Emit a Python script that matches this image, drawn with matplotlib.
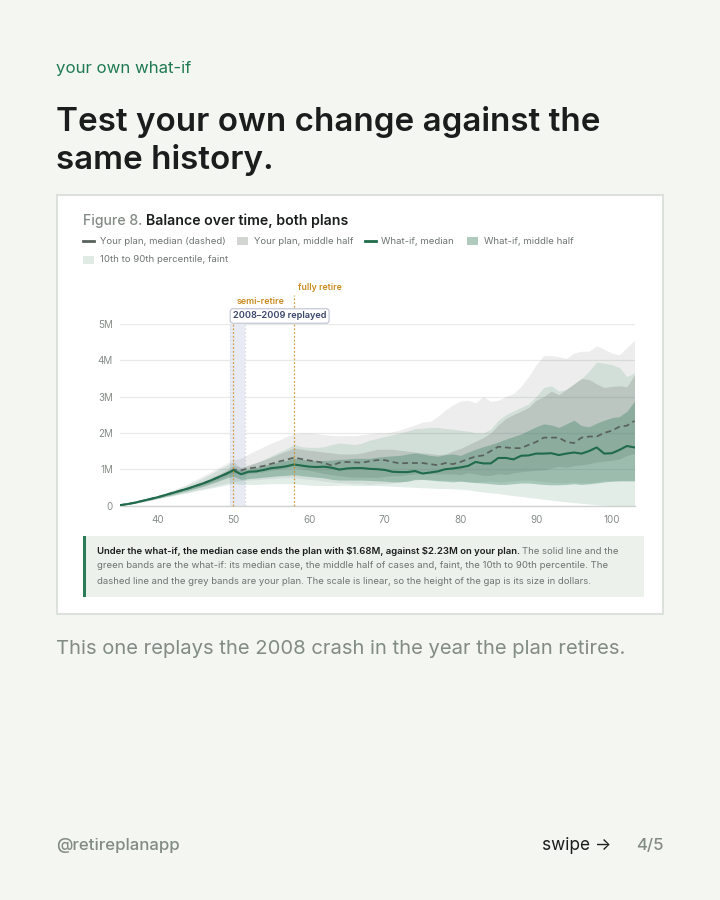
import matplotlib
matplotlib.use("Agg")
import matplotlib.pyplot as plt
import matplotlib.patches as patches

plt.rcParams['font.family'] = ['Inter', 'DejaVu Sans']

ages = list(range(35, 104))
tick_ages = [40, 50, 60, 70, 80, 90, 100]
tick_vals = [0, 1, 2, 3, 4, 5]
tick_labels = ['0', '1M', '2M', '3M', '4M', '5M']
semi_retire_age = 50
full_retire_age = 58
crash_start = 49.5
crash_end = 51.5

# balances in $M, one value per age
whatif_median = [.01, .04, .08, .13, .18, .23, .29, .35, .41, .47, .54, .61, .69, .78, .87, .97,
                 .86, .93, .94, .98, 1.03, 1.05, 1.08, 1.13, 1.10, 1.07, 1.06, 1.07, 1.04, .99,
                 1.02, 1.03, 1.03, 1.01, 1.0, .98, .93, .92, .92, .95, .88, .91, .94, 1.0, 1.02,
                 1.05, 1.09, 1.2, 1.16, 1.16, 1.31, 1.31, 1.27, 1.37, 1.38, 1.43, 1.43, 1.44,
                 1.39, 1.43, 1.46, 1.43, 1.5, 1.6, 1.43, 1.44, 1.53, 1.64, 1.6]
plan_median = [.01, .04, .08, .13, .18, .23, .29, .35, .41, .47, .54, .61, .69, .78, .87, .98,
               .97, 1.02, 1.05, 1.09, 1.15, 1.21, 1.26, 1.32, 1.28, 1.24, 1.21, 1.17, 1.1, 1.18,
               1.2, 1.19, 1.18, 1.22, 1.25, 1.25, 1.2, 1.16, 1.17, 1.17, 1.17, 1.14, 1.11, 1.17,
               1.14, 1.2, 1.28, 1.35, 1.38, 1.5, 1.62, 1.6, 1.58, 1.58, 1.67, 1.75, 1.87, 1.87,
               1.87, 1.75, 1.72, 1.87, 1.9, 1.9, 2.0, 2.06, 2.17, 2.2, 2.33]
plan_p90 = [.01, .05, .09, .14, .2, .27, .35, .43, .51, .6, .71, .82, .93, 1.04, 1.15, 1.27,
            1.3, 1.42, 1.52, 1.62, 1.72, 1.8, 1.9, 1.97, 2.0, 2.0, 1.98, 1.95, 1.93, 1.92,
            1.93, 1.92, 1.95, 1.98, 2.0, 2.0, 2.03, 2.08, 2.15, 2.22, 2.3, 2.32, 2.45, 2.63,
            2.77, 2.88, 2.9, 2.83, 3.0, 2.87, 2.9, 3.0, 3.08, 3.28, 3.55, 3.88, 4.13, 4.13,
            4.1, 4.05, 4.2, 4.25, 4.25, 4.4, 4.3, 4.2, 4.15, 4.35, 4.55]
plan_p75 = [.01, .04, .08, .13, .19, .25, .31, .37, .44, .51, .59, .67, .76, .86, .97, 1.1,
            1.05, 1.12, 1.18, 1.25, 1.33, 1.42, 1.5, 1.58, 1.55, 1.52, 1.5, 1.47, 1.45, 1.42,
            1.42, 1.42, 1.45, 1.5, 1.55, 1.55, 1.55, 1.52, 1.5, 1.47, 1.45, 1.43, 1.4, 1.42,
            1.5, 1.57, 1.67, 1.77, 1.87, 2.0, 2.22, 2.4, 2.5, 2.6, 2.7, 2.9, 3.0, 3.15,
            3.05, 3.2, 3.35, 3.5, 3.47, 3.35, 3.25, 3.28, 3.3, 3.27, 3.6]
plan_p25 = [.01, .03, .07, .12, .16, .21, .27, .33, .39, .45, .5, .56, .64, .72, .8, .9,
            .86, .88, .9, .93, .97, 1.0, 1.03, 1.05, 1.0, .97, .92, .88, .85, .82,
            .8, .78, .78, .78, .77, .8, .82, .82, .85, .87, .88, .87, .87, .87,
            .87, .85, .9, .87, .83, .83, .88, .85, .9, .93, .95, .97, .98, 1.03,
            1.08, 1.05, 1.1, 1.12, 1.15, 1.2, 1.22, 1.25, 1.28, 1.38, 1.43]
plan_p10 = [.01, .03, .06, .1, .14, .2, .24, .28, .33, .37, .42, .46, .51, .56, .61, .66,
            .68, .7, .71, .73, .74, .76, .77, .77, .74, .72, .7, .67, .65, .63,
            .62, .6, .6, .58, .6, .6, .62, .65, .67, .7, .72, .72, .7, .7,
            .7, .68, .66, .65, .66, .67, .65, .66, .68, .7, .7, .68, .66, .64,
            .63, .63, .65, .63, .62, .65, .68, .68, .68, .68, .68]
whatif_p90 = [.01, .05, .09, .13, .19, .26, .33, .4, .48, .57, .66, .76, .87, .98, 1.09, 1.2,
              1.03, 1.1, 1.18, 1.27, 1.37, 1.47, 1.56, 1.68, 1.62, 1.6, 1.6, 1.62, 1.68, 1.72,
              1.7, 1.68, 1.72, 1.8, 1.85, 1.9, 1.95, 2.0, 2.05, 2.12, 2.13, 2.15, 2.15, 2.12,
              2.1, 2.07, 2.05, 2.0, 2.0, 2.1, 2.35, 2.5, 2.6, 2.7, 2.8, 3.0, 3.25, 3.3,
              3.15, 3.2, 3.35, 3.5, 3.7, 3.95, 3.92, 3.88, 3.8, 3.55, 3.65]
whatif_p75 = [.01, .04, .08, .12, .18, .24, .3, .36, .42, .49, .56, .64, .73, .82, .93, 1.05,
              .96, 1.0, 1.05, 1.1, 1.15, 1.2, 1.24, 1.3, 1.27, 1.25, 1.24, 1.24, 1.25, 1.27,
              1.28, 1.3, 1.3, 1.3, 1.33, 1.35, 1.37, 1.38, 1.42, 1.45, 1.42, 1.38, 1.36, 1.4,
              1.42, 1.38, 1.47, 1.55, 1.62, 1.68, 1.75, 1.83, 1.9, 1.97, 2.07, 2.17, 2.25, 2.22,
              2.15, 2.25, 2.35, 2.2, 2.17, 2.27, 2.35, 2.42, 2.45, 2.6, 2.87]
whatif_p25 = [.01, .03, .06, .11, .15, .2, .25, .3, .36, .41, .47, .53, .6, .67, .75, .8,
              .72, .74, .76, .78, .8, .82, .83, .85, .82, .8, .78, .76, .72, .7,
              .7, .7, .7, .69, .68, .67, .65, .65, .67, .72, .72, .7, .68, .67,
              .65, .67, .65, .63, .62, .6, .58, .58, .6, .62, .62, .6, .58, .57,
              .57, .58, .6, .58, .6, .62, .65, .67, .68, .68, .68]
whatif_p10 = [.01, .03, .06, .1, .14, .19, .23, .27, .31, .35, .4, .44, .48, .52, .56, .6,
              .58, .58, .58, .59, .6, .6, .6, .6, .58, .56, .55, .55, .55, .56,
              .56, .55, .55, .55, .55, .54, .53, .52, .51, .5, .49, .48, .47, .47,
              .46, .45, .43, .4, .37, .35, .33, .3, .27, .25, .22, .2, .17, .15,
              .12, .1, .08, .06, .04, .02, .01, 0, 0, 0, 0]

BG = '#f3f6f1'
GREEN = '#1f6b4c'
ACCENT = '#1f7a52'
INK = '#1a1d1b'
MUTED = '#838b85'
GREY_LINE = '#5a625d'
ORANGE = '#c98a1e'
LEGEND_TEXT = '#6d746f'

fig = plt.figure(figsize=(7.2, 9), dpi=100, facecolor=BG)

# overlay in pixel coordinates for the card and all the text
bg = fig.add_axes([0, 0, 1, 1])
bg.set_xlim(0, 720)
bg.set_ylim(900, 0)
bg.axis('off')


def run_text(x, y, parts, size):
    # several styles on one line, placed one after the other
    r = fig.canvas.get_renderer()
    for s, color, weight in parts:
        t = bg.text(x, y, s, fontsize=size, color=color, fontweight=weight, va='center')
        x += t.get_window_extent(r).width


bg.text(56, 68, 'your own what-if', fontsize=12.1, color=ACCENT, va='center')
bg.text(56, 122, 'Test your own change against the', fontsize=23.9, color=INK, fontweight='semibold', va='center')
bg.text(56, 160, 'same history.', fontsize=23.9, color=INK, fontweight='semibold', va='center')

bg.add_patch(patches.Rectangle((57, 195), 606, 419, facecolor='white', edgecolor='#dce1dc', linewidth=1.5))

run_text(83, 221, [('Figure 8. ', MUTED, 'medium'), ('Balance over time, both plans', INK, 'semibold')], 10.15)

# legend
bg.plot([83, 94], [241, 241], color=GREY_LINE, lw=2)
bg.text(100, 241, 'Your plan, median (dashed)', fontsize=6.9, color=LEGEND_TEXT, va='center')
bg.add_patch(patches.Rectangle((237, 237), 11, 8, facecolor='#d3d5d3', edgecolor='none'))
bg.text(254, 241, 'Your plan, middle half', fontsize=6.9, color=LEGEND_TEXT, va='center')
bg.plot([365, 376], [241, 241], color=GREEN, lw=2)
bg.text(381, 241, 'What-if, median', fontsize=6.9, color=LEGEND_TEXT, va='center')
bg.add_patch(patches.Rectangle((467, 237), 11, 8, facecolor='#b1cabe', edgecolor='none'))
bg.text(484, 241, 'What-if, middle half', fontsize=6.9, color=LEGEND_TEXT, va='center')
bg.add_patch(patches.Rectangle((83, 256), 11, 8, facecolor='#e1ebe6', edgecolor='none'))
bg.text(100, 260, '10th to 90th percentile, faint', fontsize=6.9, color=LEGEND_TEXT, va='center')

# main chart
ax = fig.add_axes([120 / 720, (900 - 505.5) / 900, 514.5 / 720, 181.5 / 900], facecolor='none')
ax.set_xlim(35, 103)
ax.set_ylim(0, 5)
for spine in ['top', 'right', 'left']:
    ax.spines[spine].set_visible(False)
ax.spines['bottom'].set_color('#cfd3cf')
ax.spines['bottom'].set_linewidth(1)
ax.set_yticks(tick_vals)
ax.set_yticklabels(tick_labels)
ax.set_xticks(tick_ages)
ax.tick_params(length=0, labelsize=7.1, labelcolor='#868d88')
ax.tick_params(axis='x', pad=7)
ax.tick_params(axis='y', pad=5)
ax.grid(axis='y', color='#e8eae8', linewidth=0.9)
ax.set_axisbelow(True)

ax.axvspan(crash_start, crash_end, color='#e8ebf3', lw=0, zorder=1)
for edge in (crash_start, crash_end):
    ax.axvline(edge, color='#dcdfe5', lw=0.9, ls=(0, (1.5, 1.5)), zorder=1)

ax.fill_between(ages, plan_p10, plan_p90, color='#6f7471', alpha=0.13, lw=0, zorder=2)
ax.fill_between(ages, whatif_p10, whatif_p90, color='#3f8a6a', alpha=0.15, lw=0, zorder=2)
ax.fill_between(ages, plan_p25, plan_p75, color='#5f6663', alpha=0.2, lw=0, zorder=3)
ax.fill_between(ages, whatif_p25, whatif_p75, color='#2f7a5a', alpha=0.33, lw=0, zorder=3)

ax.plot(ages, plan_median, color=GREY_LINE, lw=1.25, ls=(0, (3.4, 2.2)), zorder=4)
ax.plot(ages, whatif_median, color=GREEN, lw=1.5, zorder=5)

ax.axvline(semi_retire_age, ymax=1.08, color=ORANGE, lw=0.9, alpha=0.8, ls=(0, (1.5, 1.5)), clip_on=False, zorder=6)
ax.axvline(full_retire_age, ymax=1.16, color=ORANGE, lw=0.9, alpha=0.8, ls=(0, (1.5, 1.5)), clip_on=False, zorder=6)

# labels on top of the chart
top = fig.add_axes([0, 0, 1, 1], facecolor='none')
top.set_xlim(0, 720)
top.set_ylim(900, 0)
top.axis('off')
top.text(237, 301.5, 'semi-retire', fontsize=6.4, color=ORANGE, fontweight='semibold', va='center')
top.text(297.5, 287.5, 'fully retire', fontsize=6.3, color=ORANGE, fontweight='semibold', va='center')
top.text(233, 316, '2008–2009 replayed', fontsize=6.6, color='#39456b', fontweight='semibold', va='center',
         bbox=dict(boxstyle='round,pad=0.3', facecolor='white', edgecolor='#c3c9d6', linewidth=0.9))

# note under the chart
bg.add_patch(patches.Rectangle((83, 536), 561, 61, facecolor='#ecf1ec', edgecolor='none'))
bg.add_patch(patches.Rectangle((83, 536), 2.5, 61, facecolor='#2d7a59', edgecolor='none'))
run_text(97, 551, [('Under the what-if, the median case ends the plan with \\$1.68M, against \\$2.23M on your plan. ', INK, 'semibold'),
                   ('The solid line and the', LEGEND_TEXT, 'normal')], 6.85)
bg.text(97, 566, 'green bands are the what-if: its median case, the middle half of cases and, faint, the 10th to 90th percentile. The',
        fontsize=6.92, color=LEGEND_TEXT, va='center')
bg.text(97, 581.5, 'dashed line and the grey bands are your plan. The scale is linear, so the height of the gap is its size in dollars.',
        fontsize=6.85, color=LEGEND_TEXT, va='center')

bg.text(56, 649.5, 'This one replays the 2008 crash in the year the plan retires.', fontsize=14.55, color='#838b85', va='center')

bg.text(56, 845.5, '@retireplanapp', fontsize=12.1, color='#838b85', fontweight='medium', va='center')
bg.text(542, 845.5, 'swipe →', fontsize=12.4, color=INK, va='center')
bg.text(664, 845.5, '4/5', fontsize=12.1, color='#838b85', fontweight='medium', va='center', ha='right')

fig.savefig('out.png', dpi=100, facecolor=BG)
